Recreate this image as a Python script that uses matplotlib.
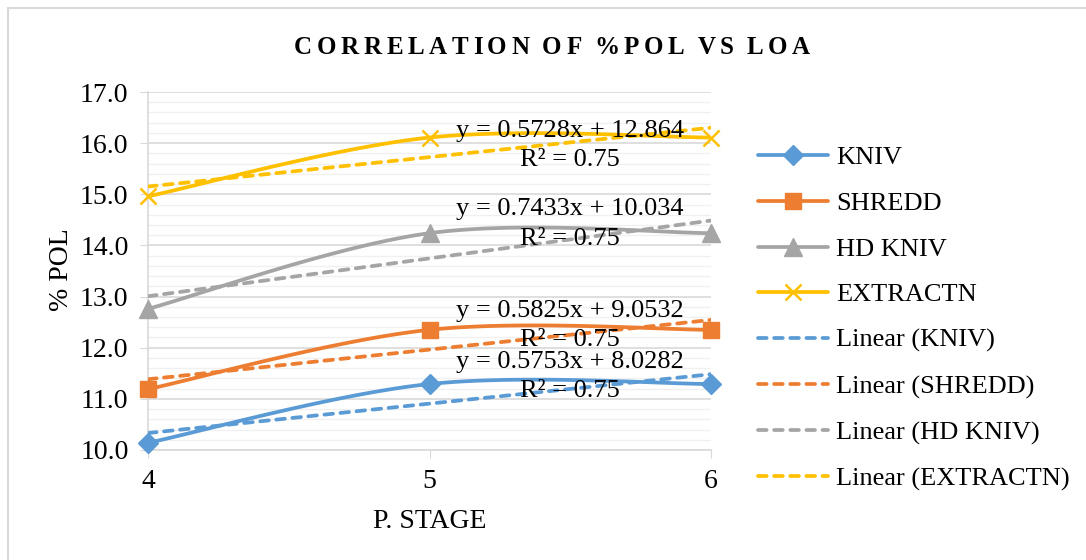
import numpy as np
import matplotlib
matplotlib.use("Agg")
import matplotlib.pyplot as plt
from matplotlib.lines import Line2D
from matplotlib.font_manager import FontProperties
from matplotlib.ticker import MultipleLocator

# data
stages = [4, 5, 6]
series_names = ["KNIV", "SHREDD", "HD KNIV", "EXTRACTN"]
kniv = [10.14, 11.29, 11.29]
shredd = [11.19, 12.35, 12.35]
hd_kniv = [12.76, 14.24, 14.24]
extractn = [14.96, 16.11, 16.11]
equations = ["y = 0.5753x + 8.0282", "y = 0.5825x + 9.0532",
             "y = 0.7433x + 10.034", "y = 0.5728x + 12.864"]
r2_labels = ["R² = 0.75"] * 4

colors = ["#5B9BD5", "#ED7D31", "#A5A5A5", "#FFC000"]
markers = ["D", "s", "^", "x"]
msizes = [10.5, 11.5, 12.5, 12]

plt.rcParams["font.family"] = ["Liberation Serif", "DejaVu Serif"]

W, H = 1086, 560
fig = plt.figure(figsize=(W / 100, H / 100), dpi=100)
ax = fig.add_axes([148 / W, 1 - 450 / H, (711 - 148) / W, (450 - 92) / H])


def smooth(xs, ys, n=60):
    # Excel-like smoothed line: cubic bezier with catmull-rom control points
    p = np.column_stack([xs, ys]).astype(float)
    ext = np.vstack([p[0], p, p[-1]])
    out = []
    t = np.linspace(0, 1, n)[:, None]
    for i in range(len(p) - 1):
        p0, p3 = ext[i + 1], ext[i + 2]
        p1 = p0 + (ext[i + 2] - ext[i]) / 6
        p2 = p3 - (ext[i + 3] - ext[i + 1]) / 6
        seg = ((1 - t) ** 3) * p0 + 3 * ((1 - t) ** 2) * t * p1 + 3 * (1 - t) * t ** 2 * p2 + t ** 3 * p3
        out.append(seg)
    seg = np.vstack(out)
    return seg[:, 0], seg[:, 1]


LW = 2.7
all_series = [kniv, shredd, hd_kniv, extractn]
for vals, c, m, ms in zip(all_series, colors, markers, msizes):
    sx, sy = smooth(stages, vals)
    ax.plot(sx, sy, color=c, lw=LW, solid_capstyle="round", zorder=3)
    ax.plot(stages, vals, ls="none", marker=m, ms=ms, color=c,
            mec=c, mew=1.8 if m == "x" else 1, zorder=4, clip_on=False)
    k, b = np.polyfit(stages, vals, 1)
    tx = np.array([4, 6])
    ax.plot(tx, k * tx + b, color=c, lw=LW, dashes=(2.3, 2.0),
            dash_capstyle="round", zorder=3)

# trendline labels
label_y = [11.43, 12.44, 14.42, 15.95]
for e, r, yy, in zip(equations, r2_labels, label_y):
    ax.text(5.5, yy + 0.285, e, ha="center", va="center", fontsize=19, zorder=5)
    ax.text(5.5, yy - 0.285, r, ha="center", va="center", fontsize=19, zorder=5)

ax.set_xlim(4, 6)
ax.set_ylim(10, 17)
ax.set_xticks(stages)
ax.yaxis.set_major_locator(MultipleLocator(1))
ax.yaxis.set_minor_locator(MultipleLocator(0.2))
ax.yaxis.set_major_formatter(matplotlib.ticker.FormatStrFormatter("%.1f"))
ax.grid(axis="y", which="major", color="#D9D9D9", lw=1.2)
ax.grid(axis="y", which="minor", color="#F0F0F0", lw=1.0)
ax.tick_params(axis="y", which="major", length=6, color="#D9D9D9", labelsize=20, pad=8)
ax.tick_params(axis="y", which="minor", length=0)
ax.tick_params(axis="x", length=6, color="#D9D9D9", labelsize=20, pad=8)
for s in ["top", "right"]:
    ax.spines[s].set_visible(False)
ax.spines["left"].set_color("#D9D9D9")
ax.spines["bottom"].set_color("#D9D9D9")
ax.spines["left"].set_linewidth(1.2)
ax.spines["bottom"].set_linewidth(1.2)
ax.set_axisbelow(True)

fig.text(430 / W, 1 - 521 / H, "P. STAGE", ha="center", va="center", fontsize=20)
fig.text(62 / W, 1 - 270 / H, "% POL", ha="center", va="center", fontsize=20, rotation=90)

# title with letter spacing
fp = FontProperties(family="Liberation Serif", weight="bold", size=18)
renderer = fig.canvas.get_renderer()


def tw(s):
    return renderer.get_text_width_height_descent(s, fp, ismath=False)[0]


title = "CORRELATION OF %POL VS LOA"
gap = 4.6
space_w = tw("A A") - tw("AA")
xs = []
x = 0
for ch in title:
    xs.append(x)
    x += (space_w if ch == " " else tw(ch)) + gap
total = x - gap
x0 = 552 - total / 2
for ch, xx in zip(title, xs):
    if ch != " ":
        fig.text((x0 + xx) / W, 1 - 47 / H, ch, fontproperties=fp, ha="left", va="center")

# legend
handles = []
for name, c, m, ms in zip(series_names, colors, markers, msizes):
    handles.append(Line2D([], [], color=c, lw=LW, marker=m, ms=ms, mec=c,
                          mew=1.8 if m == "x" else 1, solid_capstyle="round"))
for name, c in zip(series_names, colors):
    handles.append(Line2D([], [], color=c, lw=LW, dashes=(2.3, 2.0), dash_capstyle="round"))
labels = series_names + ["Linear (%s)" % n for n in series_names]
fig.legend(handles, labels, loc="upper left", bbox_to_anchor=(758 / W, 1 - 146 / H),
           frameon=False, fontsize=19, labelspacing=0.84, handlelength=2.65,
           handletextpad=0.3, borderpad=0, borderaxespad=0)

# outer chart border
fig.add_artist(Line2D([8 / W, 1], [1 - 8 / H, 1 - 8 / H], color="#D9D9D9", lw=1.5))
fig.add_artist(Line2D([8 / W, 8 / W], [0, 1 - 8 / H], color="#D9D9D9", lw=1.5))

fig.savefig("out.png", dpi=100)
